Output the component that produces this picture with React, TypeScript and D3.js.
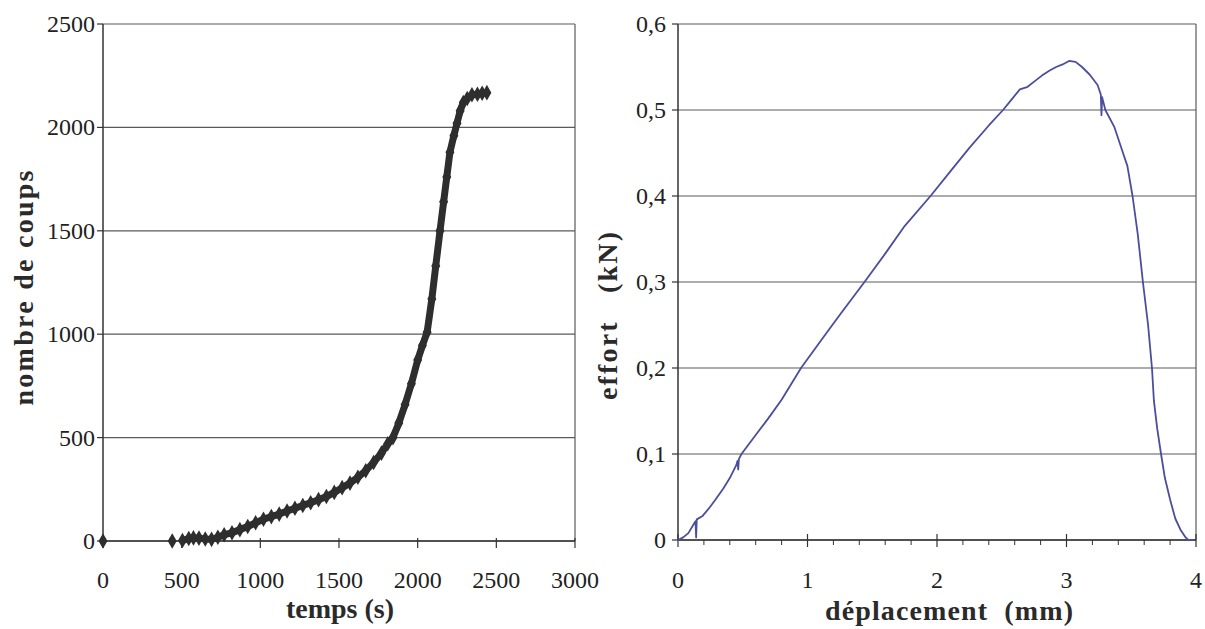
import React from "react";
import * as d3 from "d3";

// Left chart: nombre de coups vs temps (s)
const tempsCoups: [number, number][] = [
  [0, 0], [440, 0], [505, 2], [545, 12], [575, 15], [610, 14], [650, 10], [690, 8],
  [730, 18], [770, 30], [820, 40], [870, 55], [920, 70], [970, 88], [1020, 105],
  [1070, 118], [1120, 130], [1170, 145], [1220, 158], [1270, 172], [1320, 185],
  [1370, 200], [1420, 215], [1470, 235], [1520, 258], [1570, 280], [1620, 308],
  [1670, 340], [1720, 380], [1770, 425], [1810, 470], [1843, 500], [1880, 570],
  [1920, 660], [1960, 760], [2000, 875], [2030, 945], [2060, 1010], [2090, 1170],
  [2115, 1330], [2142, 1500], [2165, 1640], [2185, 1760], [2205, 1880], [2230, 1960],
  [2250, 2020], [2270, 2080], [2290, 2120], [2315, 2140], [2345, 2158], [2380, 2160],
  [2410, 2165], [2440, 2168],
];
const leftXTicks = [0, 500, 1000, 1500, 2000, 2500, 3000];
const leftYTicks = [0, 500, 1000, 1500, 2000, 2500];

// Right chart: effort (kN) vs déplacement (mm)
const deplEffort: [number, number][] = [
  [0, 0], [0.04, 0.003], [0.08, 0.008], [0.12, 0.018], [0.135, 0.022], [0.14, 0.003],
  [0.145, 0.024], [0.19, 0.028], [0.24, 0.037], [0.29, 0.047], [0.35, 0.06], [0.4, 0.072],
  [0.45, 0.087], [0.46, 0.092], [0.465, 0.082], [0.47, 0.094], [0.49, 0.1], [0.6, 0.122],
  [0.7, 0.142], [0.8, 0.163], [0.95, 0.2], [1.1, 0.231], [1.25, 0.262], [1.44, 0.3],
  [1.6, 0.333], [1.75, 0.365], [1.95, 0.4], [2.1, 0.428], [2.25, 0.456], [2.4, 0.482],
  [2.51, 0.5], [2.58, 0.513], [2.64, 0.524], [2.7, 0.527], [2.75, 0.533], [2.81, 0.54],
  [2.87, 0.546], [2.92, 0.55], [2.97, 0.553], [3.02, 0.557], [3.07, 0.556], [3.12, 0.55],
  [3.18, 0.541], [3.24, 0.529], [3.265, 0.518], [3.27, 0.494], [3.275, 0.515], [3.3, 0.5],
  [3.37, 0.48], [3.43, 0.453], [3.47, 0.435], [3.51, 0.4], [3.55, 0.356], [3.59, 0.3],
  [3.63, 0.25], [3.66, 0.2], [3.675, 0.162], [3.7, 0.13], [3.73, 0.1], [3.76, 0.072],
  [3.8, 0.047], [3.84, 0.025], [3.88, 0.012], [3.92, 0.003], [3.94, 0], [3.98, 0],
];
const rightXTicks = [0, 1, 2, 3, 4];
const rightXMinor = [0.2, 0.4, 0.6, 0.8, 1.2, 1.4, 1.6, 1.8, 2.2, 2.4, 2.6, 2.8, 3.2, 3.4, 3.6, 3.8];
const rightYTicks = [0, 0.1, 0.2, 0.3, 0.4, 0.5, 0.6];

const W = 1205;
const H = 629;
const FONT = "Liberation Serif";
const GRID = "#5a5a5a";
const AXIS = "#333";
const TICK_FS = 24;

export default function App() {
  const lx = d3.scaleLinear().domain([0, 3000]).range([103, 575]);
  const ly = d3.scaleLinear().domain([0, 2500]).range([541, 24]);
  const rx = d3.scaleLinear().domain([0, 4]).range([678, 1196]);
  const ry = d3.scaleLinear().domain([0, 0.6]).range([540, 24]);

  const leftLine = d3
    .line<[number, number]>()
    .x((d) => lx(d[0]))
    .y((d) => ly(d[1]));
  const rightLine = d3
    .line<[number, number]>()
    .x((d) => rx(d[0]))
    .y((d) => ry(d[1]));

  const diamond = d3.symbol().type(d3.symbolDiamond).size(70)() as string;
  const contPts = tempsCoups.filter((d) => d[0] >= 500);
  const tf = { fontFamily: FONT };

  return (
    <svg
      width={W}
      height={H}
      style={{ position: "absolute", left: 0, top: 0, background: "#fff", fontFamily: FONT }}
    >
      <rect x={0} y={0} width={W} height={H} fill="#fff" />

      {/* ===== LEFT CHART ===== */}
      {leftYTicks.map((t) => (
        <g key={"lyg" + t}>
          <line x1={lx(0)} x2={lx(3000)} y1={ly(t)} y2={ly(t)} stroke={GRID} strokeWidth={1.2} />
          <line x1={lx(0) - 6} x2={lx(0)} y1={ly(t)} y2={ly(t)} stroke={AXIS} strokeWidth={1.2} />
          <text x={95} y={ly(t) + 8} fontSize={TICK_FS} textAnchor="end" fill="#222" style={tf}>
            {t}
          </text>
        </g>
      ))}
      <line x1={lx(3000)} x2={lx(3000)} y1={ly(0)} y2={ly(2500)} stroke={GRID} strokeWidth={1.2} />
      <line x1={lx(0)} x2={lx(0)} y1={ly(0)} y2={ly(2500)} stroke={AXIS} strokeWidth={1.5} />
      <line x1={lx(0)} x2={lx(3000)} y1={ly(0)} y2={ly(0)} stroke={AXIS} strokeWidth={1.5} />
      {leftXTicks.map((t) => (
        <g key={"lxt" + t}>
          <line x1={lx(t)} x2={lx(t)} y1={ly(0) - 3} y2={ly(0) + 7} stroke={AXIS} strokeWidth={1.2} />
          <text x={lx(t)} y={588} fontSize={TICK_FS} textAnchor="middle" fill="#222" style={tf}>
            {t}
          </text>
        </g>
      ))}
      <path d={leftLine(contPts) || ""} fill="none" stroke="#2e2e2e" strokeWidth={7} strokeLinejoin="round" />
      {tempsCoups.map((d, i) => (
        <path key={"lm" + i} d={diamond} transform={`translate(${lx(d[0])},${ly(d[1])})`} fill="#2e2e2e" />
      ))}
      <text x={340} y={618} fontSize={28} fontWeight="bold" textAnchor="middle" fill="#2a2a2a" style={tf}>
        temps (s)
      </text>
      <text
        transform="translate(33,288) rotate(-90)"
        fontSize={28}
        fontWeight="bold"
        textAnchor="middle"
        fill="#2a2a2a"
        textLength={235}
        lengthAdjust="spacing"
        style={tf}
      >
        nombre de coups
      </text>

      {/* ===== RIGHT CHART ===== */}
      {rightYTicks.map((t) => (
        <g key={"ryg" + t}>
          <line x1={rx(0)} x2={rx(4)} y1={ry(t)} y2={ry(t)} stroke={GRID} strokeWidth={1.2} />
          <line x1={rx(0) - 6} x2={rx(0)} y1={ry(t)} y2={ry(t)} stroke={AXIS} strokeWidth={1.2} />
          <text x={666} y={ry(t) + 8} fontSize={TICK_FS} textAnchor="end" fill="#222" style={tf}>
            {t === 0 ? "0" : t.toFixed(1).replace(".", ",")}
          </text>
        </g>
      ))}
      <line x1={rx(4)} x2={rx(4)} y1={ry(0)} y2={ry(0.6)} stroke={GRID} strokeWidth={1.2} />
      <line x1={rx(0)} x2={rx(0)} y1={ry(0)} y2={ry(0.6)} stroke={AXIS} strokeWidth={1.5} />
      <line x1={rx(0)} x2={rx(4)} y1={ry(0)} y2={ry(0)} stroke={AXIS} strokeWidth={1.5} />
      {rightXMinor.map((t) => (
        <line key={"rxm" + t} x1={rx(t)} x2={rx(t)} y1={ry(0)} y2={ry(0) + 5} stroke={AXIS} strokeWidth={1} />
      ))}
      {rightXTicks.map((t) => (
        <g key={"rxt" + t}>
          <line x1={rx(t)} x2={rx(t)} y1={ry(0) - 6} y2={ry(0) + 7} stroke={AXIS} strokeWidth={1.2} />
          <text x={rx(t)} y={588} fontSize={TICK_FS} textAnchor="middle" fill="#222" style={tf}>
            {t}
          </text>
        </g>
      ))}
      <path d={rightLine(deplEffort) || ""} fill="none" stroke="#4a4e9c" strokeWidth={1.8} strokeLinejoin="round" />
      <text
        x={949}
        y={620}
        fontSize={28}
        fontWeight="bold"
        textAnchor="middle"
        fill="#2a2a2a"
        textLength={248}
        lengthAdjust="spacing"
        style={{ ...tf, whiteSpace: "pre" }}
      >
        {"déplacement  (mm)"}
      </text>
      <text
        transform="translate(617,316) rotate(-90)"
        fontSize={28}
        fontWeight="bold"
        textAnchor="middle"
        fill="#2a2a2a"
        textLength={168}
        lengthAdjust="spacing"
        style={{ ...tf, whiteSpace: "pre" }}
      >
        {"effort   (kN)"}
      </text>
    </svg>
  );
}
